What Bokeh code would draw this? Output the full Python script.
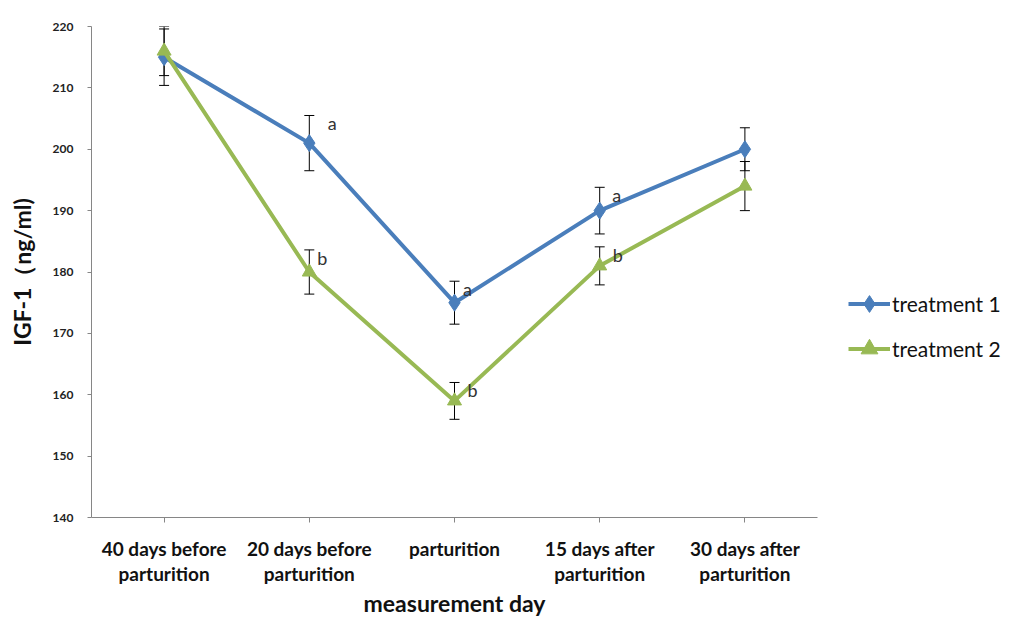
from bokeh.plotting import figure
from bokeh.layouts import row
from bokeh.models import (ColumnDataSource, Whisker, Legend, LegendItem, FactorRange,
                          Range1d, FixedTicker, TeeHead)
from bokeh.core.properties import value
from bokeh.embed import file_html
from bokeh.resources import INLINE

# ---------------- data ----------------
categories = ["40 days before\nparturition", "20 days before\nparturition", "parturition",
              "15 days after\nparturition", "30 days after\nparturition"]
t1_mean = [215, 201, 175, 190, 200]
t1_err = [4.6, 4.5, 3.5, 3.8, 3.5]
t2_mean = [216, 180, 159, 181, 194]
t2_err = [4.0, 3.6, 3.0, 3.1, 4.0]
t1_letters = ["", "a", "a", "a", ""]
t2_letters = ["", "b", "b", "b", ""]
y_ticks = [140, 150, 160, 170, 180, 190, 200, 210, 220]
series_names = ["treatment 1", "treatment 2"]

# ---------------- styles ----------------
BLUE = "#4A7EBB"
GREEN = "#98B954"
AXIS = "#868686"
FONT = "Lato"
t1_letter_dx = [0, 23, 13, 17, 0]
t2_letter_dx = [0, 13, 18, 18, 0]

p = figure(width=830, height=619,
           x_range=FactorRange(*categories, range_padding=0),
           y_range=Range1d(140, 220),
           output_backend="svg", toolbar_location=None,
           min_border_left=91, min_border_top=26, min_border_right=13, min_border_bottom=101)
p.outline_line_color = None
p.xgrid.visible = False
p.ygrid.visible = False
p.background_fill_color = "white"
p.border_fill_color = "white"

s1 = ColumnDataSource(dict(x=categories, y=t1_mean,
                           upper=[m + e for m, e in zip(t1_mean, t1_err)],
                           lower=[m - e for m, e in zip(t1_mean, t1_err)],
                           lab=t1_letters, dx=t1_letter_dx))
s2 = ColumnDataSource(dict(x=categories, y=t2_mean,
                           upper=[m + e for m, e in zip(t2_mean, t2_err)],
                           lower=[m - e for m, e in zip(t2_mean, t2_err)],
                           lab=t2_letters, dx=t2_letter_dx))

for s in (s1, s2):
    w = Whisker(base="x", upper="upper", lower="lower", source=s, dimension="height",
                line_color="black", line_width=1,
                upper_head=TeeHead(size=10, line_color="black", line_width=1),
                lower_head=TeeHead(size=10, line_color="black", line_width=1))
    p.add_layout(w)

p.line("x", "y", source=s1, line_color=BLUE, line_width=4)
p.scatter("x", "y", source=s1, marker="diamond", size=17, fill_color=BLUE, line_color=BLUE)
p.line("x", "y", source=s2, line_color=GREEN, line_width=4)
p.scatter("x", "y", source=s2, marker="triangle", size=14, fill_color=GREEN, line_color=GREEN)

for s in (s1, s2):
    p.text("x", "upper", text="lab", source=s, x_offset="dx", text_align="center",
           text_baseline="middle", text_font=value(FONT), text_font_size="18px",
           text_color="#333333", y_offset=8)

# axes
p.yaxis.ticker = FixedTicker(ticks=y_ticks)
p.yaxis.minor_tick_line_color = None
p.yaxis.axis_line_color = AXIS
p.yaxis.major_tick_line_color = AXIS
p.yaxis.major_tick_out = 4
p.yaxis.major_tick_in = 0
p.yaxis.major_label_standoff = 14
p.yaxis.major_label_text_font = FONT
p.yaxis.major_label_text_font_style = "bold"
p.yaxis.major_label_text_font_size = "12px"
p.yaxis.major_label_text_color = "#222222"
p.yaxis.axis_label = "IGF-1（ng/ml)"
p.yaxis.axis_label_text_font = FONT
p.yaxis.axis_label_text_font_style = "bold"
p.yaxis.axis_label_text_font_size = "23px"
p.yaxis.axis_label_text_color = "#111111"
p.yaxis.axis_label_standoff = 14

p.xaxis.axis_line_color = AXIS
p.xaxis.major_tick_line_color = AXIS
p.xaxis.major_tick_out = 5
p.xaxis.major_tick_in = 0
p.xaxis.minor_tick_line_color = None
p.xaxis.major_label_orientation = "horizontal"
p.xaxis.major_label_standoff = 14
p.xaxis.major_label_text_font = FONT
p.xaxis.major_label_text_font_style = "bold"
p.xaxis.major_label_text_font_size = "19px"
p.xaxis.major_label_text_line_height = 1.1
p.xaxis.major_label_text_color = "#111111"
p.xaxis.axis_label = "measurement day"
p.xaxis.axis_label_text_font = FONT
p.xaxis.axis_label_text_font_style = "bold"
p.xaxis.axis_label_text_font_size = "23px"
p.xaxis.axis_label_text_color = "#111111"
p.xaxis.axis_label_standoff = 1

# legend panel (separate, axis-less figure to the right of the chart)
q = figure(width=186, height=619, x_range=Range1d(0, 1), y_range=Range1d(0, 1),
           output_backend="svg", toolbar_location=None,
           min_border_left=0, min_border_right=0, min_border_top=0, min_border_bottom=0)
q.axis.visible = False
q.grid.visible = False
q.outline_line_color = None
off = [-5, -6]  # outside the visible range: only the legend glyphs show
ql1 = q.line(off, off, line_color=BLUE, line_width=4)
qm1 = q.scatter(off, off, marker="diamond", size=17, fill_color=BLUE, line_color=BLUE)
ql2 = q.line(off, off, line_color=GREEN, line_width=4)
qm2 = q.scatter(off, off, marker="triangle", size=14, fill_color=GREEN, line_color=GREEN)

legend = Legend(items=[LegendItem(label=series_names[0], renderers=[ql1, qm1]),
                       LegendItem(label=series_names[1], renderers=[ql2, qm2])],
                location=(18, 146), orientation="vertical",
                glyph_width=42, glyph_height=45, spacing=0, padding=0, margin=0,
                label_standoff=2, label_text_font=FONT,
                label_text_font_size="21px", label_text_color="#111111",
                border_line_color=None, background_fill_alpha=0)
q.add_layout(legend, "center")

layout = row(p, q)
open("out.html", "w").write(file_html(layout, INLINE))
